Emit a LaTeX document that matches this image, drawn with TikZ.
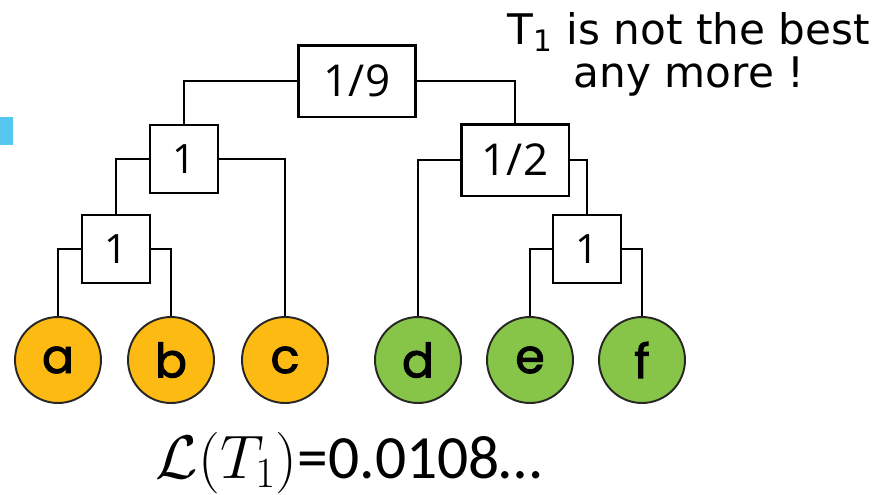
\documentclass[tikz,border=0pt]{standalone}
\usepackage{fix-cm}
\usepackage{fontspec}
\newfontfamily\handfont{DejaVu Sans}
\newfontfamily\digitfont{Open Sans}
\newfontfamily\leaffont{Poppins}[FakeBold=2]
\newfontfamily\calibrifont{Carlito}
\definecolor{leaforange}{RGB}{252,186,18}
\definecolor{leafgreen}{RGB}{134,197,72}
\definecolor{slideblue}{RGB}{86,200,240}
\tikzset{
  weightbox/.style={draw,line width=1.7pt,fill=white,minimum height=1.44cm,font=\digitfont\fontsize{25}{30}\selectfont},
  unitbox/.style={draw,line width=1.1pt,fill=white,minimum size=1.36cm,inner sep=0pt,font=\digitfont\fontsize{23}{28}\selectfont},
  leaf/.style={circle,draw=black!85,line width=1.1pt,minimum size=1.72cm,inner sep=0pt,font=\leaffont\fontsize{27}{30}\selectfont},
  branch/.style={line width=1.1pt}
}

\begin{document}
\begin{tikzpicture}[x=0.02cm,y=-0.02cm]
  \useasboundingbox (0,0) rectangle (892,494);
  \fill[slideblue] (0,117) rectangle (13,145);

  % leaves
  \node[leaf,fill=leaforange] (a) at (58,360) {a};
  \node[leaf,fill=leaforange] (b) at (171,360) {b};
  \node[leaf,fill=leaforange] (c) at (285,360) {c};
  \node[leaf,fill=leafgreen] (d) at (418,360) {d};
  \node[leaf,fill=leafgreen] (e) at (530,360) {e};
  \node[leaf,fill=leafgreen] (f) at (642,360) {f};

  % inner nodes with their weights
  \node[weightbox,minimum width=2.34cm] (root) at (357,81) {1/9};
  \node[weightbox,minimum width=2.16cm] (right) at (515,160) {1/2};
  \node[unitbox] (left) at (184,159) {1};
  \node[unitbox] (ab) at (116,249) {1};
  \node[unitbox] (ef) at (587,249) {1};

  \draw[branch] (root.west) -| (left.north);
  \draw[branch] (root.east) -| (right.north);
  \draw[branch] (left.west) -| (ab.north);
  \draw[branch] (left.east) -| (c.north);
  \draw[branch] (ab.west) -| (a.north);
  \draw[branch] (ab.east) -| (b.north);
  \draw[branch] (right.west) -| (d.north);
  \draw[branch] (right.east) -| (ef.north);
  \draw[branch] (ef.west) -| (e.north);
  \draw[branch] (ef.east) -| (f.north);

  \node[font=\handfont\fontsize{24}{24.5}\selectfont,align=center] (remark) at (689,54) {T\textsubscript{1} is not the best\\any more !};
  \node[font=\calibrifont\fontsize{35}{44}\selectfont,anchor=base] (loss) at (349,478) {$\mathcal{L}(T_1)$=0.0108…};
\end{tikzpicture}
\end{document}
